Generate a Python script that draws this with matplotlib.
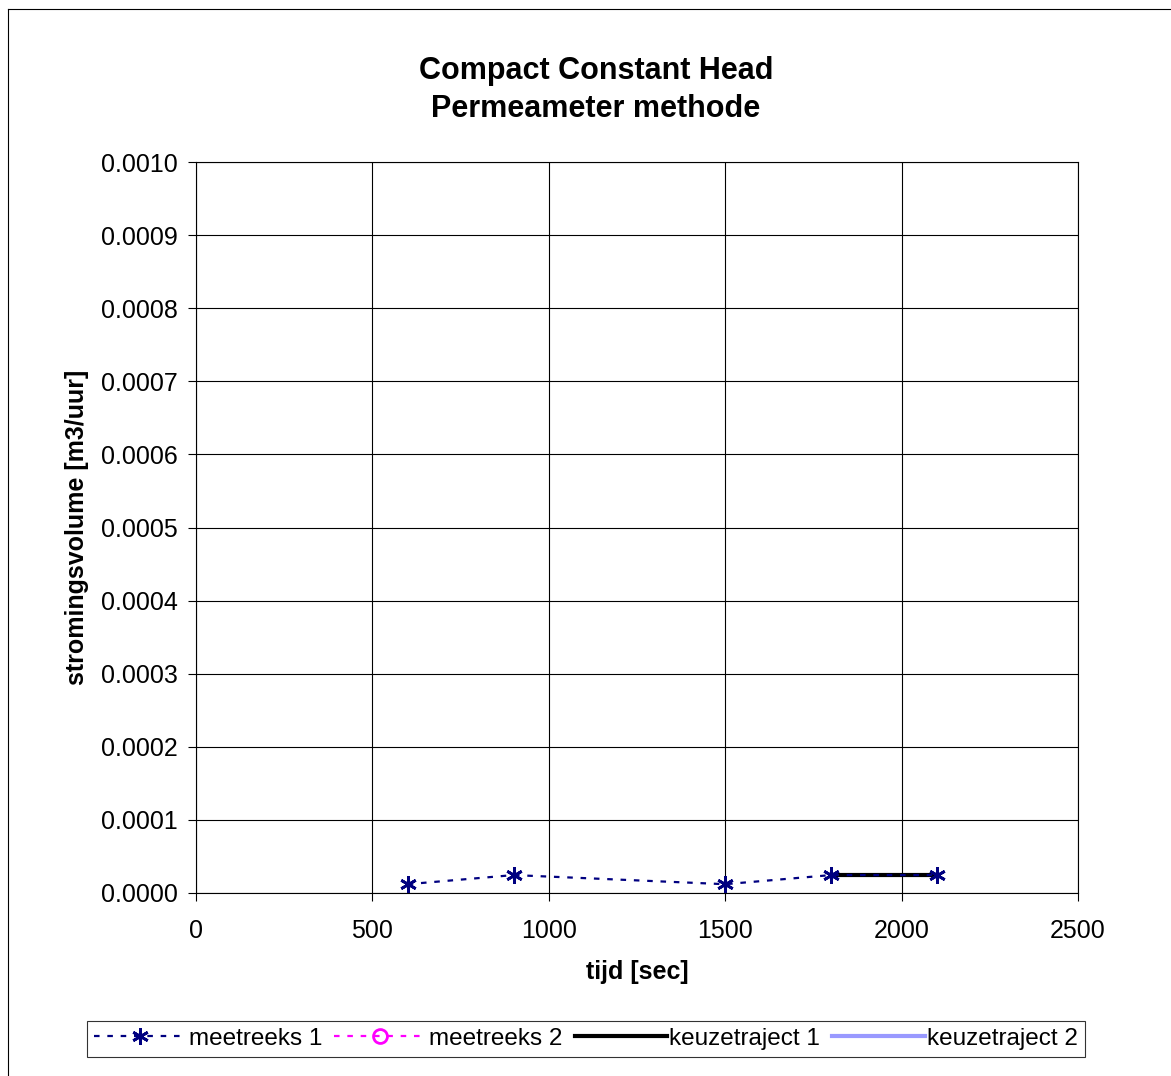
import matplotlib
matplotlib.use("Agg")
import matplotlib.pyplot as plt
from matplotlib.lines import Line2D

plt.rcParams['font.family'] = ['Liberation Sans', 'DejaVu Sans']

# meetreeks 1: tijd [sec] vs stromingsvolume [m3/uur]
tijd_1 = [600, 900, 1500, 1800, 2100]
volume_1 = [0.0000120, 0.0000245, 0.0000120, 0.0000245, 0.0000245]
# meetreeks 2 is leeg
tijd_2 = []
volume_2 = []
# keuzetraject 1 (laatste twee punten)
keuze_tijd_1 = [1800, 2100]
keuze_volume_1 = [0.0000245, 0.0000245]
keuze_tijd_2 = []
keuze_volume_2 = []

x_ticks = [0, 500, 1000, 1500, 2000, 2500]
y_ticks = [0.0000, 0.0001, 0.0002, 0.0003, 0.0004, 0.0005, 0.0006, 0.0007, 0.0008, 0.0009, 0.0010]

fig = plt.figure(figsize=(11.71, 10.76), dpi=100)
ax = fig.add_axes([0.1674, 0.1701, 0.7532, 0.6793])

star = (6, 2, 0)
dash = (0, (2.5, 3.5))
ax.plot(tijd_1, volume_1, color='#000080', lw=1.6, ls=dash,
        marker=star, ms=12, mew=2, label='meetreeks 1', zorder=3)
ax.plot(tijd_2, volume_2, color='#FF00FF', lw=1.6, ls=dash,
        marker='o', ms=10, mfc='none', mew=2, label='meetreeks 2')
ax.plot(keuze_tijd_1, keuze_volume_1, color='black', lw=3, label='keuzetraject 1', zorder=2)
ax.plot(keuze_tijd_2, keuze_volume_2, color='#9999FF', lw=3, label='keuzetraject 2')

ax.set_xlim(0, 2500)
ax.set_ylim(0, 0.001)
ax.set_xticks(x_ticks)
ax.set_yticks(y_ticks)
ax.set_xticklabels([str(v) for v in x_ticks])
ax.set_yticklabels(['%.4f' % v for v in y_ticks])
ax.grid(True, color='black', lw=0.8)
ax.set_axisbelow(True)
for s in ax.spines.values():
    s.set_linewidth(0.8)
ax.tick_params(labelsize=18, length=6, width=0.8)
ax.tick_params(axis='x', pad=13)
ax.tick_params(axis='y', pad=7)

ax.set_xlabel('tijd [sec]', fontsize=18, fontweight='bold', labelpad=12)
ax.set_ylabel('stromingsvolume [m3/uur]', fontsize=18, fontweight='bold', labelpad=9)
fig.text(0.509, 0.916, 'Compact Constant Head\nPermeameter methode', ha='center', va='center',
         fontsize=22, fontweight='bold', linespacing=1.35)

handles, labels = ax.get_legend_handles_labels()
leg = fig.legend(handles, labels, loc='center', bbox_to_anchor=(0.5004, 0.0344), ncol=4,
                 fontsize=17.5, frameon=True, fancybox=False, handlelength=3.8,
                 handletextpad=0.1, columnspacing=0.5, borderpad=0.3, borderaxespad=0)
leg.get_frame().set_edgecolor('black')
leg.get_frame().set_linewidth(0.8)

# buitenrand van de grafiek
fig.add_artist(Line2D([8 / 1171, 8 / 1171], [0, 1 - 9 / 1076], transform=fig.transFigure,
                      color='black', lw=0.8))
fig.add_artist(Line2D([8 / 1171, 1], [1 - 9 / 1076, 1 - 9 / 1076], transform=fig.transFigure,
                      color='black', lw=0.8))

fig.savefig('out.png', dpi=100)
